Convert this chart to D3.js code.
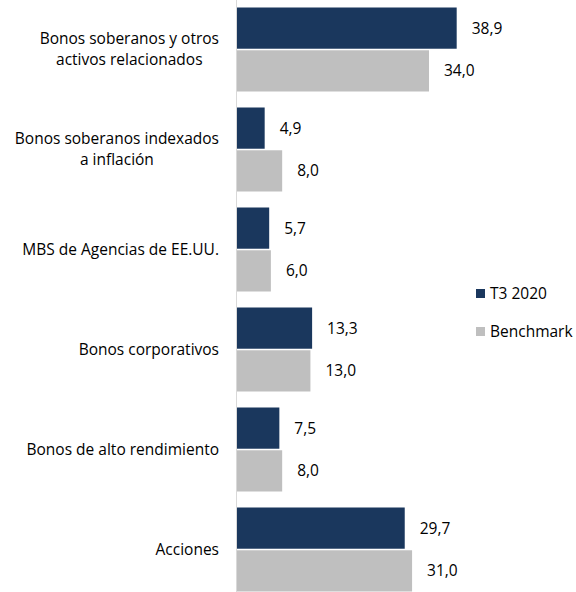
<!DOCTYPE html>
<html>
<head>
<meta charset="utf-8">
<script src="https://cdn.jsdelivr.net/npm/d3@7"></script>
<style>
  body { margin: 0; background: #fff; }
  text { font-family: "Open Sans", sans-serif; fill: #000; }
</style>
</head>
<body>
<div class="chart"></div>
<script>
const categories = [
    ['Bonos soberanos y otros', 'activos relacionados'],
    ['Bonos soberanos indexados', 'a inflación'],
    ['MBS de Agencias de EE.UU.'],
    ['Bonos corporativos'],
    ['Bonos de alto rendimiento'],
    ['Acciones']
];
const seriesNames = ['T3 2020', 'Benchmark'];
const t3Values = [38.9, 4.9, 5.7, 13.3, 7.5, 29.7];
const benchValues = [34.0, 8.0, 6.0, 13.0, 8.0, 31.0];

const colors = {'T3 2020': '#1a375d', 'Benchmark': '#bfbfbf'};

const outerWidth = 576;
const outerHeight = 592;
const axisX = 237;
const fontSize = '15.5px';

const rows = categories.map((c, i) => ({
    idx: i,
    lines: c,
    vals: [
        {name: 'T3 2020', v: t3Values[i]},
        {name: 'Benchmark', v: benchValues[i]}
    ]
}));

const svg = d3.select('.chart').append('svg')
    .attr('width', outerWidth)
    .attr('height', outerHeight);

// Scales
const x = d3.scaleLinear().domain([0, 40]).range([axisX, axisX + 225.9]);
const y = d3.scaleBand().domain(d3.range(categories.length))
    .range([-0.5, 599.5]).paddingInner(0.16).paddingOuter(0.08);
const ySub = d3.scaleBand().domain(seriesNames)
    .range([0, y.bandwidth()]).paddingInner(0.036);

// Bars
const groups = svg.selectAll('.grp').data(rows).enter().append('g')
    .attr('transform', d => `translate(0, ${y(d.idx)})`);

groups.selectAll('rect').data(d => d.vals).enter().append('rect')
    .attr('x', x(0))
    .attr('y', d => ySub(d.name))
    .attr('width', d => x(d.v) - x(0))
    .attr('height', ySub.bandwidth())
    .attr('fill', d => colors[d.name]);

// Value labels
groups.selectAll('.val').data(d => d.vals).enter().append('text')
    .attr('x', d => x(d.v) + 15)
    .attr('y', d => ySub(d.name) + ySub.bandwidth() / 2)
    .attr('dy', '0.35em')
    .style('font-size', fontSize)
    .text(d => d.v.toFixed(1).replace('.', ','));

// Vertical axis line
svg.append('line')
    .attr('x1', axisX - 0.5).attr('x2', axisX - 0.5)
    .attr('y1', 0).attr('y2', outerHeight)
    .attr('stroke', '#d9d9d9');

// Category labels: block right-aligned, lines centered to each other
const labelRight = 219;
groups.each(function(d) {
    const g = d3.select(this);
    const cy = y.bandwidth() / 2;
    const lh = 21;
    const texts = d.lines.map((ln, j) => g.append('text')
        .attr('y', cy + (j - (d.lines.length - 1) / 2) * lh)
        .attr('dy', '0.35em')
        .attr('text-anchor', 'middle')
        .style('font-size', fontSize)
        .text(ln));
    const maxW = d3.max(texts, t => t.node().getComputedTextLength());
    texts.forEach(t => t.attr('x', labelRight - maxW / 2));
});

// Legend
const legend = svg.append('g').attr('transform', 'translate(476, 289)');
seriesNames.forEach((s, i) => {
    legend.append('rect')
        .attr('x', 0).attr('y', i * 38)
        .attr('width', 9).attr('height', 9)
        .attr('fill', colors[s]);
    legend.append('text')
        .attr('x', 14).attr('y', i * 38 + 4.5)
        .attr('dy', '0.35em')
        .style('font-size', fontSize)
        .text(s);
});
</script>
</body>
</html>
